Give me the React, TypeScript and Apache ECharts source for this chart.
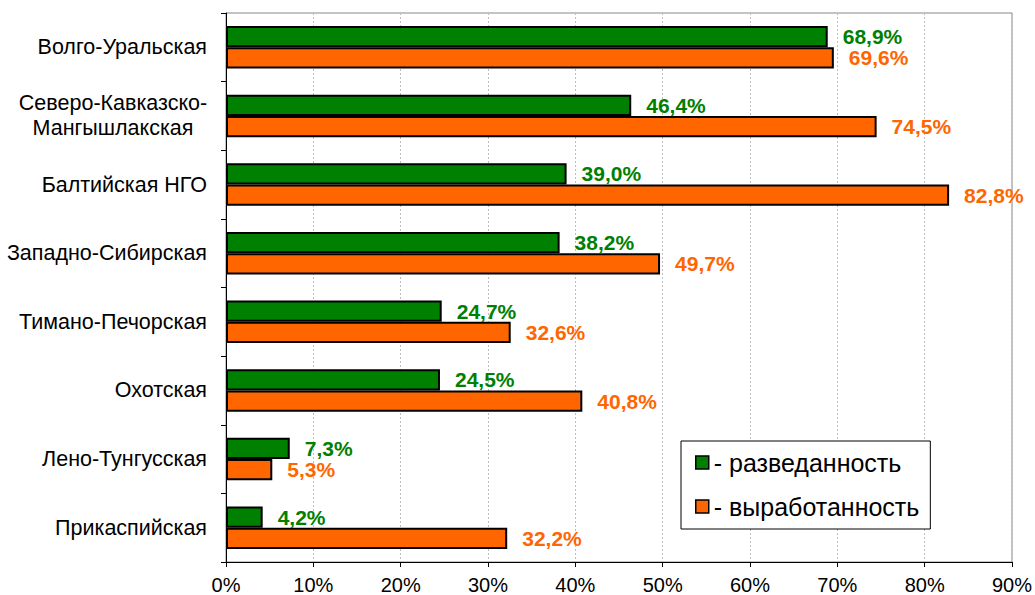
import React, { useEffect, useRef } from "react";
import * as echarts from "echarts";

const categories = [
  "Волго-Уральская",
  "Северо-Кавказско-\nМангышлакская",
  "Балтийская НГО",
  "Западно-Сибирская",
  "Тимано-Печорская",
  "Охотская",
  "Лено-Тунгусская",
  "Прикаспийская",
];
const explored = [68.9, 46.4, 39.0, 38.2, 24.7, 24.5, 7.3, 4.2];
const depleted = [69.6, 74.5, 82.8, 49.7, 32.6, 40.8, 5.3, 32.2];
const seriesNames = ["разведанность", "выработанность"];
const xTicks = [0, 10, 20, 30, 40, 50, 60, 70, 80, 90];

const GREEN = "#008000";
const ORANGE = "#FF6600";
const FONT = "'Liberation Sans', Arial, sans-serif";

const fmt = (v: number) => v.toFixed(1).replace(".", ",") + "%";

export default function App() {
  const ref = useRef<HTMLDivElement>(null);
  useEffect(() => {
    if (!ref.current) return;
    const chart = echarts.init(ref.current, null, { renderer: "svg" });
    const catLabel = (v: string) => {
      if (v.indexOf("\n") >= 0) {
        const parts = v.split("\n");
        return parts.map((p) => "{c|" + p + "}").join("\n");
      }
      return v;
    };
    const labelStyle = (color: string) => ({
      show: true,
      position: "right",
      distance: 15,
      formatter: (p: any) => fmt(p.value),
      fontFamily: FONT,
      fontSize: 21,
      fontWeight: "bold",
      color,
    });
    chart.setOption({
      animation: false,
      backgroundColor: "#fff",
      textStyle: { fontFamily: FONT },
      grid: {
        left: 226,
        right: 23,
        top: 13,
        bottom: 33,
        show: true,
        borderColor: "#888",
        borderWidth: 1,
        backgroundColor: "transparent",
      },
      xAxis: {
        type: "value",
        min: 0,
        max: 90,
        interval: 10,
        axisLine: { show: true, lineStyle: { color: "#000", width: 1 } },
        axisTick: { show: true, length: 5, lineStyle: { color: "#000" } },
        axisLabel: {
          formatter: (v: number) => (xTicks.includes(v) ? v + "%" : ""),
          fontFamily: FONT,
          fontSize: 20,
          color: "#000",
          margin: 13,
        },
        splitLine: {
          show: true,
          lineStyle: { color: "#bdbdbd", type: [2, 2], width: 1 },
        },
      },
      yAxis: {
        type: "category",
        data: categories,
        inverse: true,
        axisLine: { show: true, onZero: false, lineStyle: { color: "#000", width: 1 } },
        axisTick: { show: true, length: 5, lineStyle: { color: "#000" } },
        axisLabel: {
          formatter: catLabel,
          fontFamily: FONT,
          fontSize: 21.5,
          color: "#000",
          margin: 19,
          lineHeight: 25,
          rich: {
            c: {
              width: 188,
              align: "center",
              fontFamily: FONT,
              fontSize: 21.5,
              color: "#000",
              lineHeight: 25,
            },
          },
        },
      },
      legend: {
        orient: "vertical",
        left: 681,
        top: 441,
        padding: [9, 11, 10, 14],
        itemGap: 19,
        itemWidth: 13,
        itemHeight: 13,
        itemTextGap: 13,
        borderColor: "#000",
        borderWidth: 1,
        backgroundColor: "#fff",
        icon: "rect",
        formatter: (n: string) => "- " + n,
        textStyle: { fontFamily: FONT, fontSize: 25, color: "#000", lineHeight: 24 },
        data: seriesNames.map((n) => ({
          name: n,
          itemStyle: { borderColor: "#000", borderWidth: 1.5 },
        })),
      },
      series: [
        {
          name: seriesNames[0],
          type: "bar",
          data: explored,
          barGap: "0%",
          barCategoryGap: "38%",
          itemStyle: { color: GREEN, borderColor: "#000", borderWidth: 2 },
          label: labelStyle(GREEN),
        },
        {
          name: seriesNames[1],
          type: "bar",
          data: depleted,
          barGap: "0%",
          barCategoryGap: "38%",
          itemStyle: { color: ORANGE, borderColor: "#000", borderWidth: 2 },
          label: labelStyle(ORANGE),
        },
      ],
    });
    return () => chart.dispose();
  }, []);
  return <div ref={ref} style={{ width: 1035, height: 595, position: "absolute", left: 0, top: 0 }} />;
}
